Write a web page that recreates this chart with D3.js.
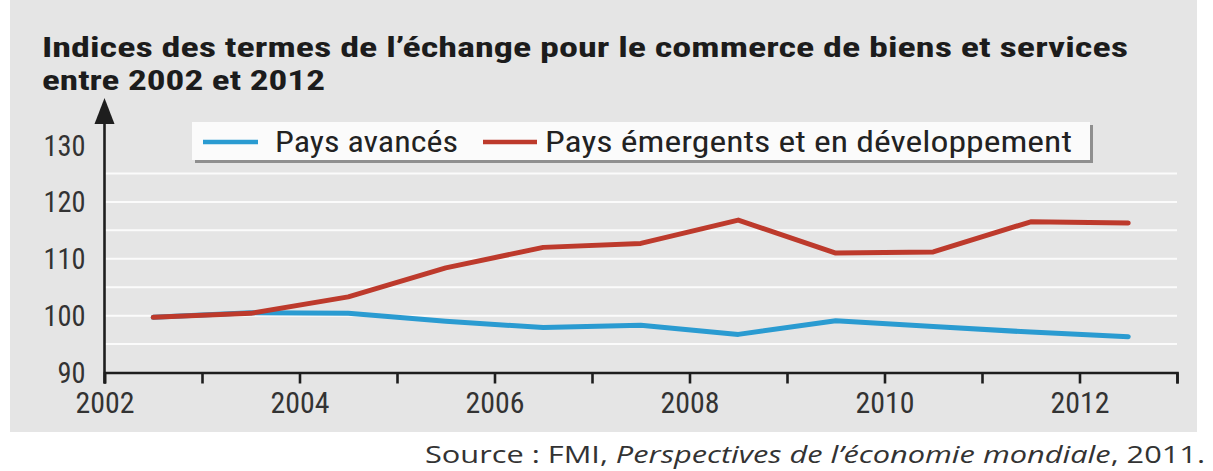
<!DOCTYPE html>
<html>

<head>
  <meta charset="utf-8">
  <script src="https://cdnjs.cloudflare.com/ajax/libs/d3/7.8.5/d3.min.js"></script>
  <title>Termes de l'échange</title>
  <style>
    body {
      margin: 0px;
      background: #ffffff;
    }

    .cond {
      font-family: "Roboto Condensed", "Liberation Sans Narrow", "DejaVu Sans Condensed", Roboto, sans-serif;
      font-stretch: condensed;
    }

    .title {
      font-weight: bold;
      font-size: 28px;
      fill: #1c1c1c;
    }

    .tick text {
      font-size: 29px;
      fill: #333;
    }

    .legend-text {
      font-size: 30px;
      fill: #222;
    }

    .source {
      font-family: "Open Sans", "Noto Sans", sans-serif;
      font-size: 24px;
      fill: #333;
    }
  </style>
</head>

<body>
  <svg width="1213" height="471"></svg>
  <script>
    // données (valeurs annuelles, placées en milieu d'année)
    const years = [2002, 2003, 2004, 2005, 2006, 2007, 2008, 2009, 2010, 2011, 2012];
    const avances = [99.7, 100.5, 100.4, 99.0, 97.9, 98.3, 96.7, 99.1, 98.1, 97.1, 96.3];
    const emergents = [99.7, 100.4, 103.3, 108.4, 112.0, 112.7, 116.8, 111.0, 111.2, 116.5, 116.3];
    const yTicks = [90, 100, 110, 120, 130];
    const gridValues = [95, 100, 105, 110, 115, 120, 125];
    const xTicks = [2002, 2003, 2004, 2005, 2006, 2007, 2008, 2009, 2010, 2011, 2012, 2013];
    const xLabels = [2002, 2004, 2006, 2008, 2010, 2012];
    const series = [
      { name: 'Pays avancés', values: avances, color: '#2a9bd1' },
      { name: 'Pays émergents et en développement', values: emergents, color: '#bd3a2c' }
    ];

    const svg = d3.select('svg');

    // fond gris de la page scannée
    svg.append('rect')
      .attr('x', 10).attr('y', 0)
      .attr('width', 1187).attr('height', 432)
      .attr('fill', '#e5e5e5');

    const xScale = d3.scaleLinear().domain([2002, 2013]).range([104.5, 1177]);
    const yScale = d3.scaleLinear().domain([90, 130]).range([372.5, 145]);

    const fit = (sel, w) => sel.attr('textLength', w).attr('lengthAdjust', 'spacingAndGlyphs');

    // titre
    svg.append('text').attr('class', 'title cond')
      .attr('x', 42).attr('y', 57)
      .text('Indices des termes de l’échange pour le commerce de biens et services')
      .call(fit, 1086);
    svg.append('text').attr('class', 'title cond')
      .attr('x', 42).attr('y', 90)
      .text('entre 2002 et 2012')
      .call(fit, 283);

    // grille blanche
    svg.append('g').selectAll('line').data(gridValues)
      .enter().append('line')
      .attr('x1', xScale(2002)).attr('x2', xScale(2013))
      .attr('y1', d => yScale(d)).attr('y2', d => yScale(d))
      .attr('stroke', '#ffffff')
      .attr('stroke-width', 2)
      .attr('opacity', 0.85);

    // axe x
    const xAxis = d3.axisBottom(xScale)
      .tickValues(xTicks)
      .tickSizeInner(11)
      .tickSizeOuter(11)
      .tickFormat(d => xLabels.includes(d) ? d : '');
    const xAxisG = svg.append('g')
      .attr('transform', `translate(0, ${yScale(90)})`)
      .call(xAxis);
    xAxisG.selectAll('path, line')
      .attr('stroke', '#1e1e1e')
      .attr('stroke-width', 2.6);
    xAxisG.selectAll('text')
      .attr('class', 'cond')
      .attr('y', 40).attr('dy', 0)
      .attr('font-family', null).attr('font-size', null)
      .each(function (d) { if (xLabels.includes(d)) d3.select(this).call(fit, 59); });

    // axe y
    const yAxis = d3.axisLeft(yScale)
      .tickValues(yTicks)
      .tickSize(0)
      .tickPadding(19);
    const yAxisG = svg.append('g')
      .attr('transform', `translate(${xScale(2002)}, 0)`)
      .call(yAxis);
    yAxisG.select('.domain').remove();
    yAxisG.selectAll('text')
      .attr('class', 'cond')
      .attr('dy', 0).attr('y', 10)
      .attr('font-family', null).attr('font-size', null)
      .each(function (d) { d3.select(this).call(fit, String(d).length * 14); });

    const ax = xScale(2002);
    svg.append('line')
      .attr('x1', ax).attr('x2', ax)
      .attr('y1', yScale(90) + 11).attr('y2', 115)
      .attr('stroke', '#1e1e1e')
      .attr('stroke-width', 2.6);
    svg.append('path')
      .attr('d', `M${ax},98 L${ax - 10},124 L${ax + 10},124 Z`)
      .attr('fill', '#1e1e1e');

    // courbes
    const line = d3.line()
      .x((d, i) => xScale(years[i] + 0.5))
      .y(d => yScale(d));

    svg.append('g').selectAll('path').data(series)
      .enter().append('path')
      .attr('d', d => line(d.values))
      .attr('fill', 'none')
      .attr('stroke', d => d.color)
      .attr('stroke-width', 5)
      .attr('stroke-linejoin', 'round')
      .attr('stroke-linecap', 'round');

    // légende
    const legendG = svg.append('g');
    legendG.append('rect')
      .attr('x', 195).attr('y', 125)
      .attr('width', 898).attr('height', 38)
      .attr('fill', '#8f8f8f');
    legendG.append('rect')
      .attr('x', 192).attr('y', 122)
      .attr('width', 898).attr('height', 38)
      .attr('fill', '#fbfbfb');

    const legendPos = [
      { x1: 203, x2: 258, tx: 275, tw: 183 },
      { x1: 483, x2: 537, tx: 545, tw: 527 }
    ];
    series.forEach((s, i) => {
      const p = legendPos[i];
      legendG.append('line')
        .attr('x1', p.x1).attr('x2', p.x2)
        .attr('y1', 142).attr('y2', 142)
        .attr('stroke', s.color)
        .attr('stroke-width', 4.5);
      legendG.append('text')
        .attr('class', 'legend-text cond')
        .attr('x', p.tx).attr('y', 152)
        .text(s.name)
        .call(fit, p.tw);
    });

    // source
    const src = svg.append('text')
      .attr('class', 'source')
      .attr('x', 425).attr('y', 463);
    src.append('tspan').text('Source : FMI, ');
    src.append('tspan').attr('font-style', 'italic').text('Perspectives de l’économie mondiale');
    src.append('tspan').text(', 2011.');
    src.call(fit, 780);
  </script>
</body>

</html>
